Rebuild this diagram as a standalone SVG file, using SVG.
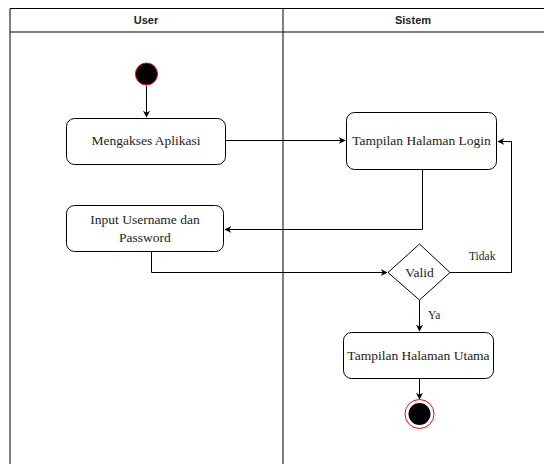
<svg xmlns="http://www.w3.org/2000/svg" width="544" height="464" viewBox="0 0 544 464">
  <style>
    .lane { fill: none; stroke: #000; stroke-width: 1; }
    .head { font-weight: bold; fill: #222; text-anchor: middle; }
    .act rect { fill: #fff; stroke: #000; stroke-width: 1; }
    .act text, .lbl { fill: #222; }
    .act text { text-anchor: middle; }
    .edge { fill: none; stroke: #000; stroke-width: 1; marker-end: url(#arrow); }
  </style>
  <defs>
    <marker id="arrow" viewBox="0 0 10 10" refX="9" refY="5" markerWidth="7" markerHeight="7" markerUnits="userSpaceOnUse" orient="auto">
      <path d="M0,0 L10,5 L0,10 L3,5 Z" fill="#000"/>
    </marker>
  </defs>
  <rect width="544" height="464" fill="#fff"/>

  <!-- swimlanes -->
  <g id="lanes" font-family="Liberation Sans, Arial, sans-serif" font-size="11">
    <path class="lane" d="M10,470 V8.5 H550"/>
    <path class="lane" d="M10,32 H550"/>
    <path class="lane" d="M283,8.5 V470"/>
    <text class="head" x="146" y="24">User</text>
    <text class="head" x="413" y="24">Sistem</text>
  </g>

  <g font-family="Liberation Serif, Times New Roman, serif" font-size="13.5">
    <!-- connectors -->
    <g id="connectors">
      <path class="edge" d="M146.5,86 V117"/>
      <path class="edge" d="M226,140.5 H345"/>
      <path class="edge" d="M422.5,170 V229.5 H225"/>
      <path class="edge" d="M151.5,252 V272.5 H387"/>
      <path class="edge" d="M450,272.5 H511.5 V141.5 H498"/>
      <path class="edge" d="M419.5,300 V331"/>
      <path class="edge" d="M419.5,379 V399"/>
      <text class="lbl" x="469" y="260" font-size="11.5">Tidak</text>
      <text class="lbl" x="428" y="319" font-size="11.5">Ya</text>
    </g>

    <!-- nodes -->
    <g id="start">
      <circle cx="146.5" cy="74" r="11" fill="#000" stroke="#f00" stroke-width="1"/>
    </g>
    <g id="mengakses" class="act">
      <rect x="66.5" y="118.5" width="159" height="46" rx="8"/>
      <text x="146" y="145">Mengakses Aplikasi</text>
    </g>
    <g id="login" class="act">
      <rect x="346.5" y="112.5" width="150" height="57" rx="8"/>
      <text x="421.5" y="145">Tampilan Halaman Login</text>
    </g>
    <g id="input" class="act">
      <rect x="66.5" y="205.5" width="157" height="46" rx="8"/>
      <text x="145" y="224">Input Username dan</text>
      <text x="145" y="242">Password</text>
    </g>
    <g id="valid">
      <path d="M419.5,244 L450,272.5 L419.5,300 L388,272.5 Z" fill="#fff" stroke="#000" stroke-width="1"/>
      <text class="lbl" x="419.5" y="277" text-anchor="middle">Valid</text>
    </g>
    <g id="utama" class="act">
      <rect x="343.5" y="332.5" width="150" height="46" rx="8"/>
      <text x="418.5" y="360">Tampilan Halaman Utama</text>
    </g>
    <g id="end">
      <circle cx="419.5" cy="414" r="14.5" fill="#fff" stroke="#f00" stroke-width="1"/>
      <circle cx="419.5" cy="414" r="11" fill="#000"/>
    </g>
  </g>
</svg>
